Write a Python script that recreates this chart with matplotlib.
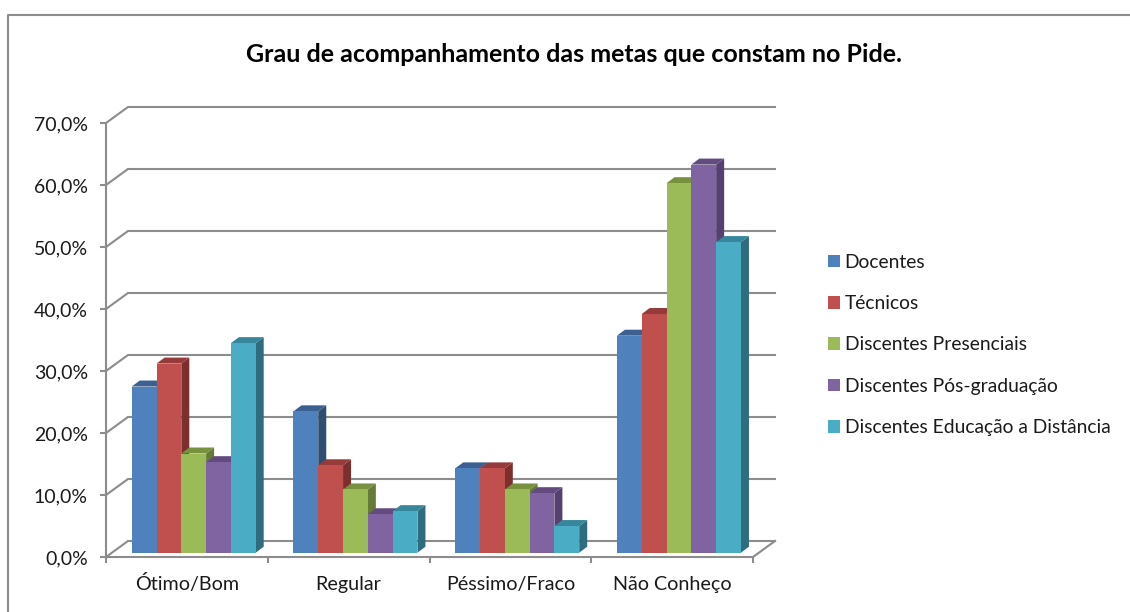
import numpy as np
import matplotlib
matplotlib.use('Agg')
import matplotlib.pyplot as plt
from matplotlib.lines import Line2D
from matplotlib.patches import Patch

categories = ['Ótimo/Bom', 'Regular', 'Péssimo/Fraco', 'Não Conheço']
series_names = ['Docentes', 'Técnicos', 'Discentes Presenciais',
                'Discentes Pós-graduação', 'Discentes Educação a Distância']
docentes = [26.8, 22.8, 13.6, 35.0]
tecnicos = [30.5, 14.1, 13.6, 38.5]
presenciais = [16.0, 10.2, 10.2, 59.6]
pos_graduacao = [14.6, 6.2, 9.6, 62.6]
distancia = [33.8, 6.7, 4.3, 50.1]
all_series = [docentes, tecnicos, presenciais, pos_graduacao, distancia]

colors = ['#4F81BD', '#C0504D', '#9BBB59', '#8064A2', '#4BACC6']
side_colors = ['#2F4D71', '#7D2F2D', '#677B38', '#554170', '#2E6C7E']
top_colors = ['#3C6191', '#953B39', '#78913F', '#634B80', '#37869B']
grey = '#8C8C8C'

plt.rcParams['font.family'] = ['Lato', 'DejaVu Sans']

W, H = 1130, 612
fig = plt.figure(figsize=(W / 100, H / 100), dpi=100)
# front plane of the fake 3d box, given in pixels
ax = fig.add_axes([106 / W, (H - 557) / H, 647 / W, 434 / H])
ax.set_xlim(0, 4)
ax.set_ylim(0, 70)
ax.patch.set_alpha(0)

px = 4 / 647
py = 70 / 434

# back wall lines
back_x = 22 * px
back_y = 16 * py
for v in range(0, 71, 10):
    ax.plot([0, back_x, 4 + back_x], [v, v + back_y, v + back_y],
            color=grey, lw=1.5, clip_on=False, zorder=1, solid_joinstyle='miter')
ax.plot([4, 4 + back_x], [0, back_y], color=grey, lw=1.5, clip_on=False, zorder=1)

# bars, left to right so each one covers the side of the one before
bar_w = 24.8 * px
start = 25.7 * px
base = 4.3 * py
dx = 8 * px
dy = 6 * py
for i, values in enumerate(all_series):
    for j, v in enumerate(values):
        x0 = j + start + i * bar_w
        x1 = x0 + bar_w
        top = base + v
        ax.fill([x1, x1 + dx, x1 + dx, x1], [base, base + dy, top + dy, top],
                color=side_colors[i], lw=0, clip_on=False, zorder=2 + i)
        ax.fill([x0, x0 + dx, x1 + dx, x1], [top, top + dy, top + dy, top],
                color=top_colors[i], lw=0, clip_on=False, zorder=2 + i)
    ax.bar(np.arange(4) + start + i * bar_w, values, width=bar_w, bottom=base,
           align='edge', color=colors[i], lw=0, clip_on=False, zorder=2 + i)

for s in ['top', 'right']:
    ax.spines[s].set_visible(False)
for s in ['left', 'bottom']:
    ax.spines[s].set_color(grey)
    ax.spines[s].set_linewidth(1.5)
    ax.spines[s].set_zorder(1.5)

yticks = np.arange(0, 71, 10)
ax.set_yticks(yticks)
ax.set_yticklabels(['%d,0%%' % t for t in yticks], fontsize=14, color='#1a1a1a')
ax.set_xticks(range(5))
ax.set_xticklabels([])
ax.set_xticks(np.arange(4) + 0.5, minor=True)
ax.set_xticklabels(categories, minor=True, fontsize=14.2, color='#1a1a1a', va='baseline')
ax.tick_params(axis='x', which='minor', length=0, pad=24)
ax.tick_params(axis='both', which='major', length=4.5, width=1.5, color=grey)
ax.tick_params(axis='y', pad=8.5)

fig.text(574 / W, 1 - 54 / H, 'Grau de acompanhamento das metas que constam no Pide.',
         ha='center', va='center', fontsize=18, fontweight='bold', color='black')

handles = [Patch(facecolor=c, edgecolor='none') for c in colors]
ax.legend(handles, series_names, loc='center left',
          bbox_to_anchor=(828 / W, 1 - 345 / H), bbox_transform=fig.transFigure,
          frameon=False, fontsize=13.85, handlelength=0.62, handleheight=0.62,
          handletextpad=0.25, labelspacing=1.27, borderpad=0, borderaxespad=0,
          labelcolor='#1a1a1a')

# chart frame, cut off on the right and bottom
fig.add_artist(Line2D([7.5 / W, 7.5 / W, 1], [0, 1 - 14.5 / H, 1 - 14.5 / H],
                      color=grey, lw=1.5))

fig.savefig('out.png', dpi=100)
